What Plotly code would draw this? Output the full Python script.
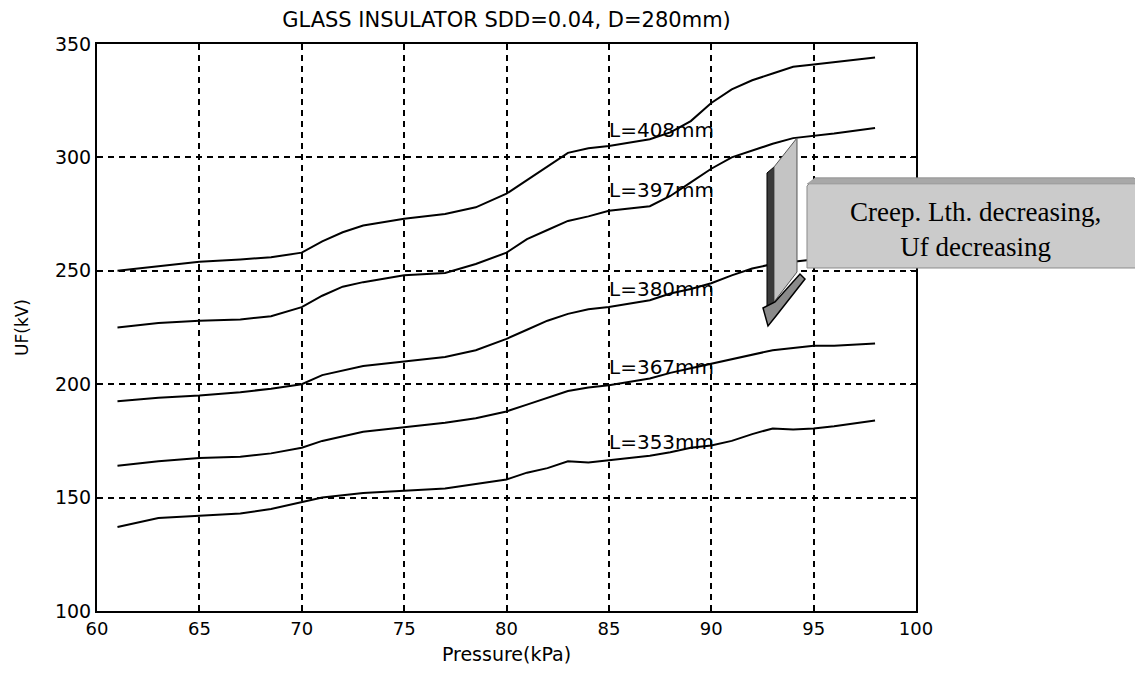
import plotly.graph_objects as go

# ---- data ----
pressure = [61, 63, 65, 67, 68.5, 70, 71, 72, 73, 75, 77, 78.5, 80, 81, 82, 83, 84, 85,
            87, 88, 89, 90, 91, 92, 93, 94, 95, 96, 98]
uf_408 = [250, 252, 254, 255, 256, 258, 263, 267, 270, 273, 275, 278, 284, 290, 296, 302, 304, 305,
          308, 311, 316, 324, 330, 334, 337, 340, 341, 342, 344]
uf_397 = [225, 227, 228, 228.5, 230, 234, 239, 243, 245, 248, 249, 253, 258, 264, 268, 272, 274, 276.5,
          278.5, 283, 289, 295, 300, 303, 306, 308.5, 309.5, 310.5, 313]
uf_380 = [192.5, 194, 195, 196.5, 198, 200, 204, 206, 208, 210, 212, 215, 220, 224, 228, 231, 233, 234,
          237, 240, 242, 244.5, 248, 251, 253, 254, 255, 256, 257]
uf_367 = [164, 166, 167.5, 168, 169.5, 172, 175, 177, 179, 181, 183, 185, 188, 191, 194, 197, 198.5, 199.5,
          202.5, 205, 207, 209, 211, 213, 215, 216, 217, 217, 218]
uf_353 = [137, 141, 142, 143, 145, 148, 150, 151, 152, 153, 154, 156, 158, 161, 163, 166, 165.5, 166.5,
          168.5, 170, 172, 173, 175, 178, 180.5, 180, 180.5, 181.5, 184]
series = [uf_408, uf_397, uf_380, uf_367, uf_353]
labels = ["L=408mm", "L=397mm", "L=380mm", "L=367mm", "L=353mm"]
x_ticks = [60, 65, 70, 75, 80, 85, 90, 95, 100]
y_ticks = [100, 150, 200, 250, 300, 350]

# label placement (layout, not data)
label_x = 85
label_y = [312, 285.5, 242, 207.5, 174.5]

W, H = 1143, 674
OFF = 8  # page body margin
L_PX, R_PX, T_PX, B_PX = 97, 916, 44, 611  # screen pixels of the plot area


def px(x, y):
    return (x - L_PX) / (R_PX - L_PX), (B_PX - y) / (B_PX - T_PX)


def path(points):
    s = ""
    for i, (x, y) in enumerate(points):
        a, b = px(x, y)
        s += ("M" if i == 0 else "L") + f"{a:.5f},{b:.5f} "
    return s + "Z"


fig = go.Figure()
for ys in series:
    fig.add_trace(go.Scatter(x=pressure, y=ys, mode="lines",
                             line=dict(color="black", width=2), showlegend=False,
                             hoverinfo="skip"))

for lab, ly in zip(labels, label_y):
    fig.add_annotation(x=label_x, y=ly, text=lab, showarrow=False, xanchor="left",
                       yanchor="middle", xshift=-2,
                       font=dict(family="DejaVu Sans", size=20, color="black"))

font_axis = dict(family="DejaVu Sans", size=18, color="black")
fig.update_xaxes(range=[60, 100], tickvals=x_ticks, showgrid=True, gridcolor="black",
                 griddash="6px,5px", gridwidth=2, showline=True, linecolor="black",
                 linewidth=2, mirror="ticks", ticks="inside", ticklen=6, tickcolor="black",
                 tickfont=font_axis, zeroline=False,
                 title=dict(text="Pressure(kPa)", font=dict(family="DejaVu Sans", size=19, color="black"),
                            standoff=10))
fig.update_yaxes(range=[100, 350], tickvals=y_ticks, showgrid=True, gridcolor="black",
                 griddash="6px,5px", gridwidth=2, showline=True, linecolor="black",
                 linewidth=2, mirror="ticks", ticks="inside", ticklen=6, tickcolor="black",
                 tickfont=dict(family="DejaVu Sans", size=19, color="black"), zeroline=False,
                 title=dict(text="UF(kV)", font=dict(family="DejaVu Sans", size=17, color="black"),
                            standoff=22))

shapes = []
# 3D arrow: dark side, light face, head
shapes.append(dict(type="path", xref="paper", yref="paper",
                   path=path([(767, 173), (774, 167), (774, 302), (767, 310)]),
                   fillcolor="#3a3a3a", line=dict(color="black", width=1)))
shapes.append(dict(type="path", xref="paper", yref="paper",
                   path=path([(774, 167), (797, 138), (797, 272), (774, 302)]),
                   fillcolor="#c4c4c4", line=dict(color="#555555", width=1)))
shapes.append(dict(type="path", xref="paper", yref="paper",
                   path=path([(763, 308), (775, 302), (800, 274), (805, 279), (776, 316), (768, 326)]),
                   fillcolor="#8a8a8a", line=dict(color="black", width=1.5)))
# textured grey callout box with bevelled top corners
shapes.append(dict(type="path", xref="paper", yref="paper",
                   path=path([(807, 186), (815, 178), (1134, 178), (1142, 186), (1142, 268), (807, 268)]),
                   fillcolor="#cbcbcb", line=dict(color="#8a8a8a", width=1)))
shapes.append(dict(type="path", xref="paper", yref="paper",
                   path=path([(815, 178), (1134, 178), (1142, 184), (807, 184)]),
                   fillcolor="#a8a8a8", line=dict(color="#8a8a8a", width=0.5)))
fig.update_layout(shapes=shapes)

bx, by = px(975, 229)
fig.add_annotation(xref="paper", yref="paper", x=bx, y=by,
                   text="Creep. Lth. decreasing,<br>Uf decreasing", showarrow=False,
                   xanchor="center", yanchor="middle", align="center",
                   font=dict(family="Liberation Serif", size=27, color="black"))

fig.update_layout(
    width=W, height=H,
    margin=dict(l=L_PX - OFF, r=W - (R_PX - OFF), t=T_PX - OFF, b=H - (B_PX - OFF)),
    paper_bgcolor="white", plot_bgcolor="white",
    title=dict(text="GLASS INSULATOR SDD=0.04, D=280mm)", x=0.5, xref="paper",
               y=1 - (20 - OFF) / H, yref="container", yanchor="middle", xanchor="center",
               font=dict(family="DejaVu Sans", size=21, color="black")),
    showlegend=False,
)

fig.write_html("out.html")
